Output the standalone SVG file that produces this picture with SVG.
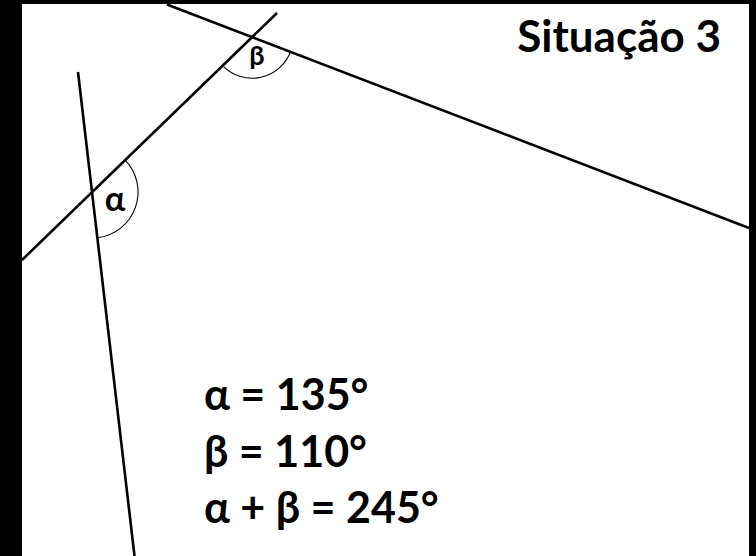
<svg xmlns="http://www.w3.org/2000/svg" width="756" height="556" viewBox="0 0 756 556">
<style>
.ln{stroke:#000;stroke-width:2.6;fill:none;stroke-linecap:butt}
.arc{stroke:#000;stroke-width:1.1;fill:none}
.t{font-family:Lato,"Open Sans","Liberation Sans",sans-serif;font-weight:bold;fill:#000}
</style>
<rect x="0" y="0" width="756" height="556" fill="#000"/>
<rect x="22" y="4" width="727" height="552" fill="#fff"/>
<g id="connectors">
<line class="ln" x1="167" y1="4.5" x2="749" y2="228"/>
<line class="ln" x1="277" y1="13" x2="22" y2="260"/>
<line class="ln" x1="78" y1="72" x2="134.5" y2="556"/>
</g>
<g id="angle-beta">
<path class="arc" d="M 290.5 51.8 A 41 41 0 0 1 223.6 66.6"/>
<text class="t" x="257" y="65" font-size="27" text-anchor="middle">β</text>
</g>
<g id="angle-alpha">
<path class="arc" d="M 125.2 160.1 A 46 46 0 0 1 97.3 237.7"/>
<text class="t" x="115" y="211" font-size="34" text-anchor="middle">α</text>
</g>
<g id="title">
<text class="t" x="721" y="52" font-size="44" text-anchor="end">Situação 3</text>
</g>
<g id="equations">
<text class="t" x="204" y="410" font-size="43">α = 135°</text>
<text class="t" x="204" y="467" font-size="43">β = 110°</text>
<text class="t" x="204" y="523" font-size="43">α + β = 245°</text>
</g>
</svg>
